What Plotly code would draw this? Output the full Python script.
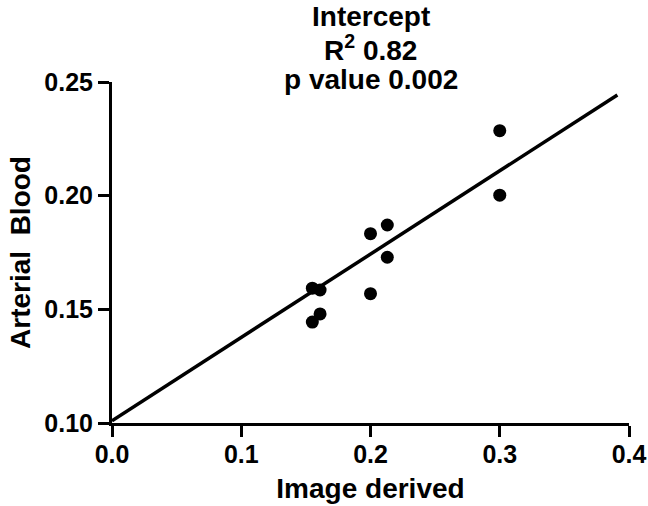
import plotly.graph_objects as go

# Data
image_derived = [0.300, 0.300, 0.213, 0.200, 0.213, 0.155, 0.161, 0.200, 0.161, 0.155]
arterial_blood = [0.2286, 0.2002, 0.1871, 0.1833, 0.1729, 0.1593, 0.1585, 0.1569, 0.1480, 0.1444]

fit_x = [0.0, 0.391]
fit_y = [0.101, 0.2443]

x_ticks = [0.0, 0.1, 0.2, 0.3, 0.4]
y_ticks = [0.10, 0.15, 0.20, 0.25]

title_lines = ["Intercept", "R<sup>2</sup> 0.82", "p value 0.002"]

FONT = "Liberation Sans, Arial, sans-serif"
W, H = 648, 506
ML, MR, MT, MB = 112, 19, 82, 83
plot_h = H - MT - MB

fig = go.Figure()
fig.add_trace(go.Scatter(
    x=fit_x, y=fit_y, mode="lines",
    line=dict(color="black", width=3.5),
    hoverinfo="skip", showlegend=False,
))
fig.add_trace(go.Scatter(
    x=image_derived, y=arterial_blood, mode="markers",
    marker=dict(color="black", size=13, symbol="circle"),
    showlegend=False, cliponaxis=False,
))

axis_common = dict(
    showgrid=False, zeroline=False, showline=True,
    linecolor="black", linewidth=3,
    ticks="outside", ticklen=11, tickwidth=3, tickcolor="black",
    tickfont=dict(family=FONT, size=25, color="black", weight="bold"),
)

fig.update_layout(
    width=W, height=H,
    margin=dict(l=ML, r=MR, t=MT, b=MB, autoexpand=False),
    paper_bgcolor="white", plot_bgcolor="white",
    xaxis=dict(
        range=[0, 0.4], tickvals=x_ticks, tickformat=".1f",
        ticklabelstandoff=-4,
        title=dict(text="Image derived", standoff=12,
                   font=dict(family=FONT, size=28, color="black", weight="bold")),
        **axis_common,
    ),
    yaxis=dict(
        range=[0.10, 0.25], tickvals=y_ticks, tickformat=".2f",
        title=dict(text="Arterial  Blood", standoff=6,
                   font=dict(family=FONT, size=28, color="black", weight="bold")),
        **axis_common,
    ),
)

# title lines (pixel centers from top of page)
centers_px = [17, 48, 79]
for txt, cy in zip(title_lines, centers_px):
    fig.add_annotation(
        text=txt, xref="paper", yref="paper",
        x=0.5, y=(H - MB - cy) / plot_h,
        xanchor="center", yanchor="middle", showarrow=False,
        font=dict(family=FONT, size=28, color="black", weight="bold"),
    )

fig.write_html("out.html")
